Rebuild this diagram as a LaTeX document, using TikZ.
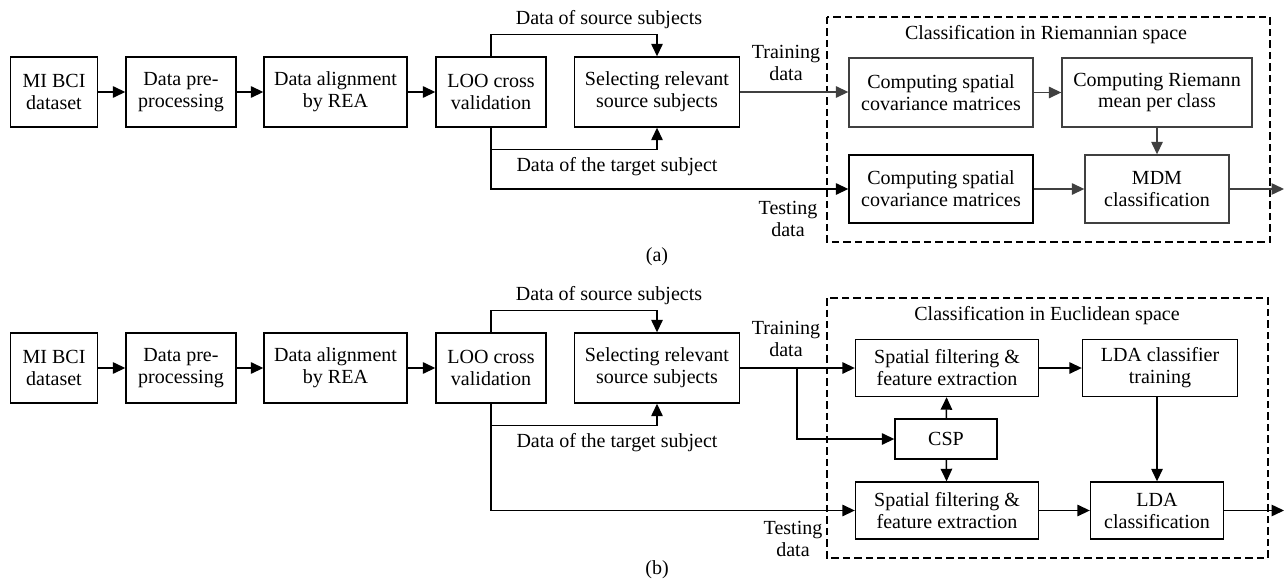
\documentclass[tikz,border=0pt]{standalone}
\usepackage{fontspec}
\setmainfont{Liberation Serif}
\usetikzlibrary{arrows.meta}

\begin{document}
\begin{tikzpicture}[x=0.02cm,y=-0.02cm,
        box/.style={draw,line width=0.8pt,align=center,inner sep=0pt,font=\fontsize{11.4}{12.5}\selectfont},
        txt/.style={align=center,inner sep=0pt,font=\fontsize{11.4}{12.5}\selectfont},
        arr/.style={-{Triangle[length=0.25cm,width=0.23cm]},line width=0.8pt},
        grp/.style={draw,line width=0.8pt,dash pattern=on 0.15cm off 0.08cm}]
        \useasboundingbox (0,0) rectangle (1284,581);
        % left part, same in (a) and (b)
        \foreach \p/\y in {a/92,b/368} {
            \node[box,minimum width=1.74cm,minimum height=1.4cm] (mi\p) at (54,\y) {MI BCI\\dataset};
            \node[box,minimum width=2.2cm,minimum height=1.4cm] (pre\p) at (181,\y) {Data pre-\\processing};
            \node[box,minimum width=2.86cm,minimum height=1.4cm] (aln\p) at (335.5,\y) {Data alignment\\by REA};
            \node[box,minimum width=2.2cm,minimum height=1.4cm] (loo\p) at (491,\y) {LOO cross\\validation};
            \node[box,minimum width=3.3cm,minimum height=1.4cm] (sel\p) at (657,\y) {Selecting relevant\\source subjects};
            \draw[arr] (mi\p) -- (pre\p);
            \draw[arr] (pre\p) -- (aln\p);
            \draw[arr] (aln\p) -- (loo\p);
            \draw[arr] (loo\p.north) -- ++(0,-22) -| (sel\p.north);
            \draw[arr] (loo\p.south) -- ++(0,22) -| (sel\p.south);
            \node[txt] (src\p) at (609,\y-72) {Data of source subjects};
            \node[txt] (tgt\p) at (617,\y+75) {Data of the target subject};
        }
        % (a) Riemannian space
        \draw[grp] (827,17) rectangle (1270,242);
        \node[txt] (titlea) at (1046,35) {Classification in Riemannian space};
        \node[box,draw=black!75,minimum width=3.68cm,minimum height=1.38cm] (cov) at (941,92.5) {Computing spatial\\covariance matrices};
        \node[box,draw=black!75,minimum width=3.8cm,minimum height=1.38cm] (mean) at (1157,92.5) {Computing Riemann\\mean per class};
        \node[box,minimum width=3.68cm,minimum height=1.36cm] (covt) at (941,189) {Computing spatial\\covariance matrices};
        \node[box,draw=black!75,minimum width=2.88cm,minimum height=1.36cm] (mdm) at (1157,189) {MDM\\classification};
        \coordinate (outa) at (1284,189);
        \draw[arr,black!75] (sela.east) -- (cov.west |- sela.east);
        \draw[arr] (looa.south) |- (covt.west);
        \draw[arr,black!75] (cov) -- (mean);
        \draw[arr,black!75] (mean) -- (mdm);
        \draw[arr,black!75] (covt) -- (mdm);
        \draw[arr,black!75] (mdm) -- (outa);
        \node[txt] (traina) at (786,63) {Training\\data};
        \node[txt] (testa) at (788,219) {Testing\\data};
        \node[txt] (capa) at (657,257) {(a)};
        % (b) Euclidean space
        \draw[grp] (827,298) rectangle (1268,558);
        \node[txt] (titleb) at (1047,316) {Classification in Euclidean space};
        \node[box,minimum width=3.66cm,minimum height=1.14cm] (spf) at (947,368) {Spatial filtering \&\\feature extraction};
        \node[box,minimum width=3.1cm,minimum height=1.14cm] (ldat) at (1160,368) {LDA classifier\\training};
        \node[box,minimum width=2.04cm,minimum height=0.8cm] (csp) at (946,439) {CSP};
        \node[box,minimum width=3.66cm,minimum height=1.14cm] (spft) at (947,510.5) {Spatial filtering \&\\feature extraction};
        \node[box,minimum width=2.66cm,minimum height=1.14cm] (ldac) at (1157,510.5) {LDA\\classification};
        \coordinate (br) at (797,368);
        \coordinate (outb) at (1284,510.5);
        \draw[arr] (selb.east) -- (spf.west);
        \draw[arr] (br) |- (csp.west);
        \draw[arr] (csp) -- (spf);
        \draw[arr] (csp) -- (spft);
        \draw[arr] (loob.south) |- (spft.west);
        \draw[arr] (spf) -- (ldat);
        \draw[arr] (spft) -- (ldac);
        \draw[arr] (ldac.north |- ldat.south) -- (ldac.north);
        \draw[arr] (ldac) -- (outb);
        \node[txt] (trainb) at (786,339) {Training\\data};
        \node[txt] (testb) at (793,539) {Testing\\data};
        \node[txt] (capb) at (657,570) {(b)};
    \end{tikzpicture}
\end{document}
